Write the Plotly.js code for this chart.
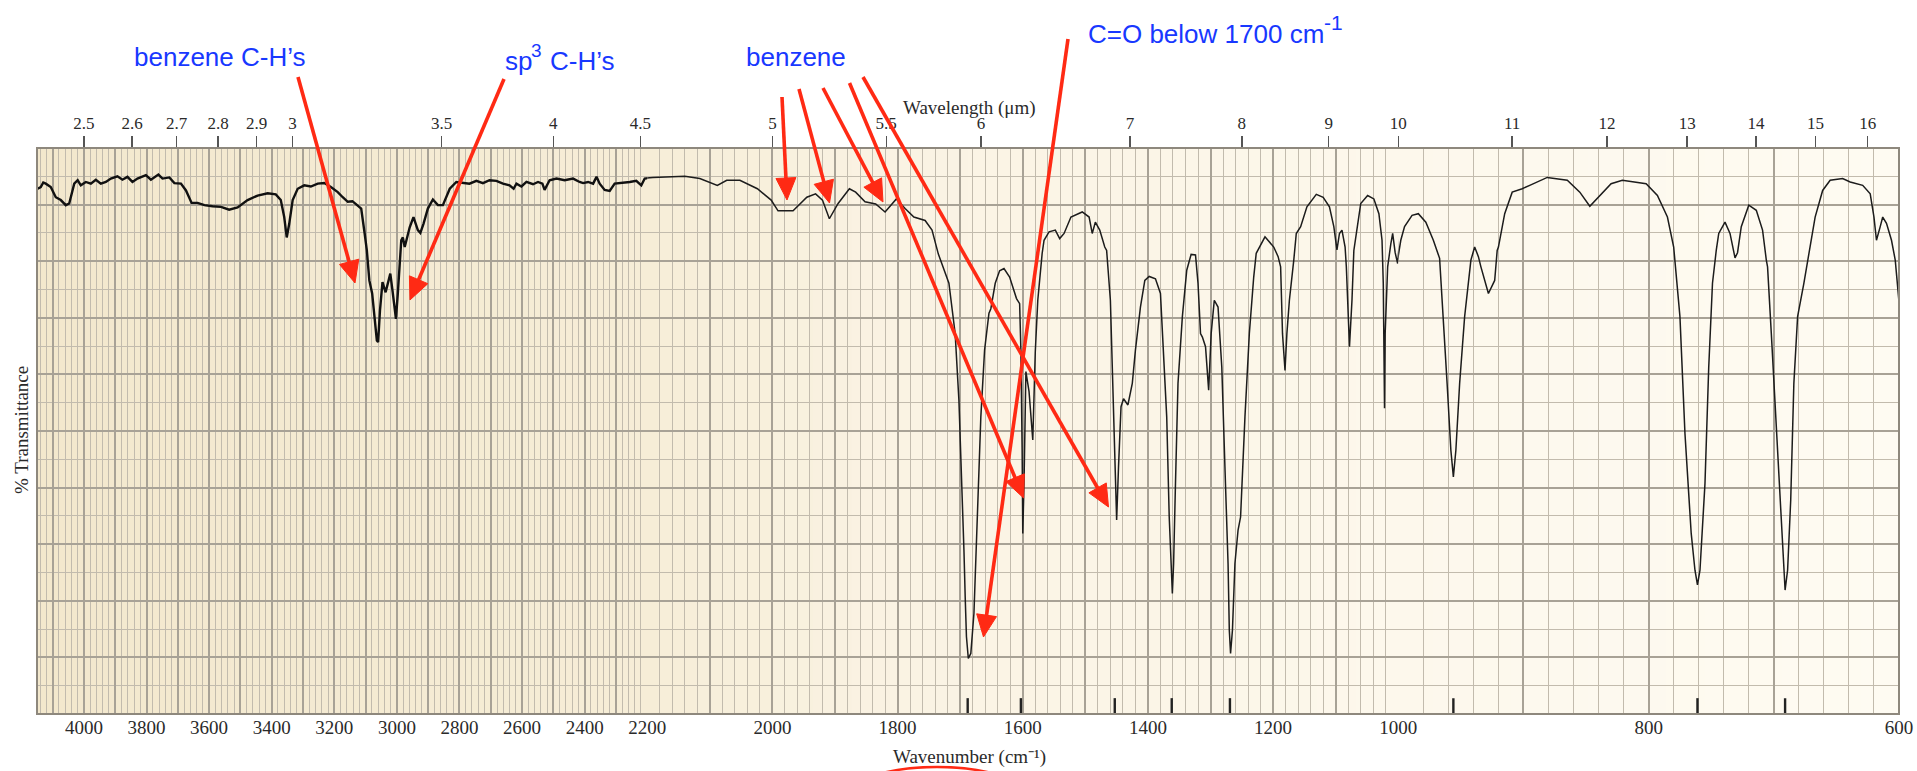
<!DOCTYPE html>
<html>
<head>
<meta charset="utf-8">
<script src="https://cdn.plot.ly/plotly-3.0.1.min.js"></script>
<style>
html,body{margin:0;padding:0;background:#fff;}
#chart{width:1917px;height:771px;}
</style>
</head>
<body>
<div id="chart"></div>
<script>
// ---------------- data ----------------
const wavenumber = [
4148,4138,4130,4122,4106,4090,4074,4058,4047,4031,4020,4010,3994,3978,3962,3946,3930,3914,3893,3877,
3861,3845,3829,3802,3786,3762,3749,3727,3711,3690,3674,3656,3637,3615,3589,3562,3536,3509,3477,3445,
3413,3387,3371,3360,3352,3344,3333,3317,3296,3275,3253,3232,3211,3189,3173,3157,3142,3130,3114,3103,
3096,3088,3079,3064,3060,3054,3046,3036,3021,3014,3003,2997,2993,2986,2981,2975,2959,2947,2933,2925,
2915,2901,2885,2869,2853,2842,2831,2810,2789,2768,2746,2725,2704,2682,2661,2640,2627,2618,2602,2586,
2565,2549,2535,2528,2512,2490,2464,2437,2416,2405,2389,2373,2362,2352,2336,2320,2304,2283,2256,2235,
2219,2208,2191,2170,2140,2116,2088,2073,2052,2024,2002,1991,1967,1945,1931,1920,1909,1895,1877,1867,
1852,1835,1820,1802,1788,1774,1756,1745,1735,1718,1708,1702,1697,1694,1692,1690,1687,1683,1678,1675,
1672,1667,1661,1654,1651,1644,1637,1630,1621,1610,1605,1603,1601,1600,1598,1595,1590,1584,1580,1576,
1569,1566,1558,1548,1541,1534,1523,1505,1494,1489,1484,1477,1469,1466,1460,1457,1453,1450,1447,1443,
1439,1432,1425,1420,1412,1405,1398,1388,1380,1375,1370,1366,1364,1362,1361,1359,1358,1356,1352,1345,
1338,1331,1324,1320,1316,1313,1308,1303,1299,1294,1288,1282,1277,1273,1272,1270,1268,1265,1261,1256,
1252,1245,1238,1231,1227,1213,1199,1192,1188,1185,1181,1178,1174,1167,1163,1156,1146,1131,1120,1110,
1103,1098,1094,1090,1085,1083,1080,1078,1074,1071,1067,1060,1049,1039,1031,1026,1024,1022,1021,1017,
1012,1009,1005,1001,998,995,989,984,978,972,967,964,961,958,956,954,951,947,943,942,
939,936,934,928,923,921,920,915,909,901,895,881,865,855,847,840,830,821,808,802,
793,785,780,775,771,766,763,761,759,757,755,752,749,746,744,739,735,731,729,726,
720,714,709,706,705,702,697,693,692,691,689,687.5,686.5,684,681,676,672,667,661,655,
645,639,629,623,620,618,615,613,610,606,603,601,600
];
const transmittance = [
92.8,93.1,93.9,93.7,93.1,91.3,90.8,89.9,90.2,93.7,94.3,93.4,94.0,93.7,94.4,93.7,94.0,94.6,95.0,94.4,
94.9,94.0,94.6,95.2,94.4,95.3,94.6,94.8,93.8,93.7,92.5,90.3,90.3,89.9,89.7,89.6,89.1,89.5,90.8,91.6,
92.0,91.8,90.8,87.8,84.2,86.6,90.8,92.8,93.4,93.2,93.7,93.8,93.1,92.2,91.3,90.5,90.6,90.0,89.3,84.9,
81.9,76.6,74.3,66.0,65.7,71.3,76.3,74.5,77.8,74.8,69.8,74.3,78.4,83.7,84.2,82.5,86.0,87.8,85.5,85.0,
86.6,89.3,90.9,89.9,89.9,91.3,92.8,94.0,93.8,93.7,94.2,93.8,94.3,94.2,93.7,93.4,92.8,93.7,93.2,94.0,
93.6,94.0,93.7,92.6,94.3,94.6,94.3,94.6,94.0,93.8,94.0,93.7,94.9,93.7,92.6,92.4,93.7,93.8,94.0,94.2,
93.4,94.6,94.8,94.9,95.0,94.6,93.4,94.3,94.3,92.8,90.8,88.9,88.9,91.3,91.9,90.8,87.5,90.2,92.8,92.2,
90.5,90.1,88.7,91.0,89.3,87.8,87.2,85.5,81.3,76.1,67.2,55.4,40.7,29.0,20.7,13.7,9.8,10.7,17.8,26.6,
34.8,52.5,64.3,70.8,71.6,76.1,78.3,78.7,77.2,73.4,72.5,64.3,46.6,31.9,40.7,60.5,57.0,48.4,64.0,73.1,
81.4,83.7,85.2,85.5,84.0,84.9,87.8,88.7,87.8,84.9,86.9,85.5,82.5,81.9,73.1,61.3,49.6,34.3,43.7,54.3,
55.7,54.6,58.4,64.3,71.9,76.6,77.3,76.9,74.3,64.3,52.5,34.8,29.5,23.7,21.3,26.6,32.5,40.7,58.4,70.2,
78.4,81.2,81.1,76.1,67.2,66.6,64.9,57.2,67.2,73.1,71.9,61.3,43.7,29.0,26.6,14.8,10.7,14.8,26.6,32.5,
34.8,52.5,67.2,77.2,81.4,84.3,82.5,80.8,79.0,67.2,60.7,67.2,73.1,80.2,84.9,86.1,89.6,91.8,91.3,89.6,
86.1,82.0,84.9,85.5,82.5,79.0,70.2,64.9,73.1,81.9,84.9,90.2,91.6,91.0,88.4,83.7,76.1,54.0,67.2,79.0,
83.0,84.9,81.5,79.6,83.7,86.1,88.1,88.4,86.9,83.7,80.5,70.2,58.4,46.6,41.9,46.6,58.4,70.2,78.4,80.2,
82.5,80.8,79.0,74.3,76.6,81.9,82.5,88.4,92.2,92.8,93.4,94.8,94.3,92.2,89.7,91.3,93.7,94.3,93.8,93.7,
91.6,87.8,82.5,70.2,49.6,31.9,25.4,22.8,25.4,32.5,40.7,61.3,76.1,81.9,84.9,86.9,84.9,80.6,81.5,86.1,
89.9,89.0,85.5,80.2,79.0,67.2,46.6,30.1,23.7,21.9,25.4,32.5,37.8,58.4,70.2,76.1,81.5,87.8,92.5,94.3,
94.6,94.0,93.4,91.9,87.8,83.7,86.1,87.8,86.7,83.7,80.2,74.3,72.8
];
// bottom axis labels (cm^-1) and top axis labels (micrometres)
const wavenumberLabels = [4000,3800,3600,3400,3200,3000,2800,2600,2400,2200,2000,1800,1600,1400,1200,1000,800,600];
const wavelengthLabels = [2.5,2.6,2.7,2.8,2.9,3,3.5,4,4.5,5,5.5,6,7,8,9,10,11,12,13,14,15,16];
// small peak marks along the bottom edge
const peakMarks = [1688,1603,1453,1362,1269,956,761,691];

// ---------------- layout geometry ----------------
const W = 1917, H = 771, L = 37, R = 18, T = 148, B = 57;
const PW = W - L - R, PH = H - T - B;
const sections = [[4150, 2200], [2200, 1000], [1000, 600]];
const weights = [1, 2, 4];
const spans = sections.map((s, i) => (s[0] - s[1]) * weights[i]);
const tot = spans.reduce((a, b) => a + b, 0);
let acc = 0;
const domains = spans.map(s => { const d = [acc / tot, (acc + s) / tot]; acc += s; return d; });
const pxX = x => (x - L) / PW;
const pxY = y => (H - B - y) / PH;

const serif = 'Liberation Serif, Times New Roman, serif';
const sans = 'Liberation Sans, Arial, Helvetica, sans-serif';
const majorGrid = '#a8a296', minorGrid = '#c2bbad';
const blue = '#1838ff', red = '#ff2a14';

const layout = {
  width: W, height: H,
  margin: {l: L, r: R, t: T, b: B, pad: 0},
  paper_bgcolor: '#ffffff', plot_bgcolor: 'rgba(0,0,0,0)',
  showlegend: false,
  yaxis: {
    domain: [0, 1], range: [0, 100], anchor: 'x', tickmode: 'linear', tick0: 0, dtick: 10,
    showticklabels: false, ticks: '', showgrid: true, gridcolor: majorGrid, gridwidth: 2,
    minor: {tickmode: 'linear', tick0: 0, dtick: 5, showgrid: true, gridcolor: minorGrid, gridwidth: 1, ticks: ''},
    zeroline: false, showline: false, fixedrange: true
  },
  shapes: [], annotations: []
};

const traces = [];
const botIds = ['x', 'x2', 'x3'], topIds = ['x4', 'x5', 'x6'], lblIds = ['x7', 'x8', 'x9'];
sections.forEach((s, i) => {
  const hi = s[0], lo = s[1];
  // grid axis (no labels): major grid every 100, minor every 20
  layout['xaxis' + (i === 0 ? '' : i + 1)] = {
    domain: domains[i], range: [hi, lo], anchor: 'y',
    tickmode: 'linear', tick0: 0, dtick: 100, showticklabels: false,
    ticks: '', showgrid: true, gridcolor: majorGrid, gridwidth: 2,
    minor: {tickmode: 'linear', tick0: 0, dtick: 20, showgrid: true, gridcolor: minorGrid, gridwidth: 1, ticks: ''},
    zeroline: false, showline: false, fixedrange: true
  };
  // wavenumber labels (bottom)
  const wn = wavenumberLabels.filter(v => i === 0 ? (v >= lo && v <= hi) : (i === 1 ? (v > 1000 && v < 2200) : (v >= lo && v <= hi)));
  layout['xaxis' + (i + 7)] = {
    overlaying: botIds[i], domain: domains[i], range: [hi, lo], anchor: 'y', side: 'bottom',
    tickmode: 'array', tickvals: wn, ticktext: wn.map(String),
    ticks: '', showgrid: false, zeroline: false, showline: false, fixedrange: true,
    tickfont: {family: serif, size: 19, color: '#2a2a2a'}
  };
  // wavelength labels (top)
  const inSec = l => { const v = 10000 / l; return i === 0 ? (v > 2200 && v <= hi) : (i === 1 ? (v > 1000 && v <= 2200) : (v >= lo && v <= 1000)); };
  const wl = wavelengthLabels.filter(inSec);
  layout['xaxis' + (i + 4)] = {
    overlaying: botIds[i], domain: domains[i], range: [hi, lo], anchor: 'y', side: 'top',
    tickmode: 'array', tickvals: wl.map(l => 10000 / l), ticktext: wl.map(l => String(l)),
    ticks: 'outside', ticklen: 11, tickwidth: 1.4, tickcolor: '#555',
    showgrid: false, zeroline: false, showline: false, fixedrange: true,
    tickfont: {family: serif, size: 17, color: '#2a2a2a'}
  };
  traces.push({
    x: wavenumber, y: transmittance, xaxis: botIds[i], yaxis: 'y', type: 'scatter', mode: 'lines',
    line: {color: i === 0 ? '#111111' : '#1c1c1c', width: i === 0 ? 2.4 : 1.5},
    hoverinfo: 'skip', showlegend: false
  });
  const mx = [], my = [];
  peakMarks.forEach(p => { mx.push(p, p, null); my.push(0, 2.8, null); });
  traces.push({x: mx, y: my, xaxis: botIds[i], yaxis: 'y', type: 'scatter', mode: 'lines',
    line: {color: '#222', width: 2.4}, hoverinfo: 'skip', showlegend: false});
  traces.push({x: [], y: [], xaxis: topIds[i], yaxis: 'y', type: 'scatter', mode: 'lines', hoverinfo: 'skip', showlegend: false});
  traces.push({x: [], y: [], xaxis: lblIds[i], yaxis: 'y', type: 'scatter', mode: 'lines', hoverinfo: 'skip', showlegend: false});
});

// background tint (tan on the left fading to cream on the right)
const stops = [[37, [243, 232, 205]], [640, [246, 237, 215]], [900, [250, 243, 227]], [1400, [253, 248, 236]], [1899, [254, 251, 242]]];
function colAt(x) {
  for (let k = 0; k < stops.length - 1; k++) {
    const a = stops[k], b = stops[k + 1];
    if (x <= b[0]) {
      const t = (x - a[0]) / (b[0] - a[0]);
      return 'rgb(' + a[1].map((c, j) => Math.round(c + (b[1][j] - c) * t)).join(',') + ')';
    }
  }
  return 'rgb(254,251,242)';
}
const NS = 48;
for (let k = 0; k < NS; k++) {
  const x0 = L + PW * k / NS, x1 = L + PW * (k + 1) / NS;
  layout.shapes.push({type: 'rect', xref: 'paper', yref: 'paper', x0: pxX(x0), x1: pxX(x1) + 0.0005, y0: 0, y1: 1,
    fillcolor: colAt((x0 + x1) / 2), line: {width: 0}, layer: 'below'});
}
// frame
layout.shapes.push({type: 'rect', xref: 'paper', yref: 'paper', x0: 0, x1: 1, y0: 0, y1: 1,
  line: {color: '#8e887d', width: 2}, fillcolor: 'rgba(0,0,0,0)', layer: 'above'});
// red ellipse fragment at the bottom
layout.shapes.push({type: 'circle', xref: 'paper', yref: 'paper', x0: pxX(847), x1: pxX(1027), y0: pxY(827), y1: pxY(767),
  line: {color: red, width: 2.6}, fillcolor: 'rgba(0,0,0,0)', layer: 'above'});

// red arrows: [tailX, tailY, headX, headY] in pixels, drawn as shaft + triangular head
const arrowsPx = [
  [298, 77, 355, 283],
  [504, 79, 410, 300],
  [782, 97, 787, 200],
  [799, 89, 829.5, 203],
  [823, 88, 883, 202],
  [849.5, 83, 1023.6, 498],
  [863, 77, 1108.5, 507],
  [1068, 39, 983.5, 637]
];
const HEADLEN = 22, HEADHALF = 10;
arrowsPx.forEach(a => {
  const dx = a[2] - a[0], dy = a[3] - a[1], len = Math.hypot(dx, dy);
  const ux = dx / len, uy = dy / len, nx = -uy, ny = ux;
  const bx = a[2] - ux * HEADLEN, by = a[3] - uy * HEADLEN;
  layout.shapes.push({type: 'line', xref: 'paper', yref: 'paper',
    x0: pxX(a[0]), y0: pxY(a[1]), x1: pxX(bx + ux * 3), y1: pxY(by + uy * 3),
    line: {color: red, width: 3.6}, layer: 'above'});
  const p = (x, y) => pxX(x).toFixed(5) + ',' + pxY(y).toFixed(5);
  layout.shapes.push({type: 'path', xref: 'paper', yref: 'paper',
    path: 'M' + p(a[2], a[3]) + ' L' + p(bx + nx * HEADHALF, by + ny * HEADHALF) + ' L' + p(bx - nx * HEADHALF, by - ny * HEADHALF) + ' Z',
    fillcolor: red, line: {color: red, width: 1}, layer: 'above'});
});

// text helper
function addText(text, x, y, font, xanchor, extra) {
  layout.annotations.push(Object.assign({text: text, xref: 'paper', yref: 'paper', x: pxX(x), y: pxY(y),
    showarrow: false, xanchor: xanchor || 'center', yanchor: 'middle', font: font}, extra || {}));
}
const titleFont = {family: serif, size: 19, color: '#2a2a2a'};
const blueFont = {family: sans, size: 26, color: blue};
const blueSup = {family: sans, size: 19, color: blue};

// axis titles
addText('Wavelength (\u03bcm)', 970, 108, titleFont);
addText('Wavenumber (cm\u207b\u00b9)', 970, 757, titleFont);
addText('% Transmittance', 21, 430, titleFont, 'center', {textangle: -90});

// blue callouts
addText('benzene C-H\u2019s', 220, 57, blueFont);
addText('sp', 534, 61, blueFont, 'right');
addText('3', 528.5, 50, blueSup, 'left');
addText('C-H\u2019s', 548, 61, blueFont, 'left');
addText('benzene', 796, 57, blueFont);
addText('C=O below 1700 cm', 1326, 34, blueFont, 'right');
addText('-1', 1322, 23, {family: sans, size: 21, color: blue}, 'left');

Plotly.newPlot('chart', traces, layout, {staticPlot: true, displayModeBar: false});
</script>
</body>
</html>
